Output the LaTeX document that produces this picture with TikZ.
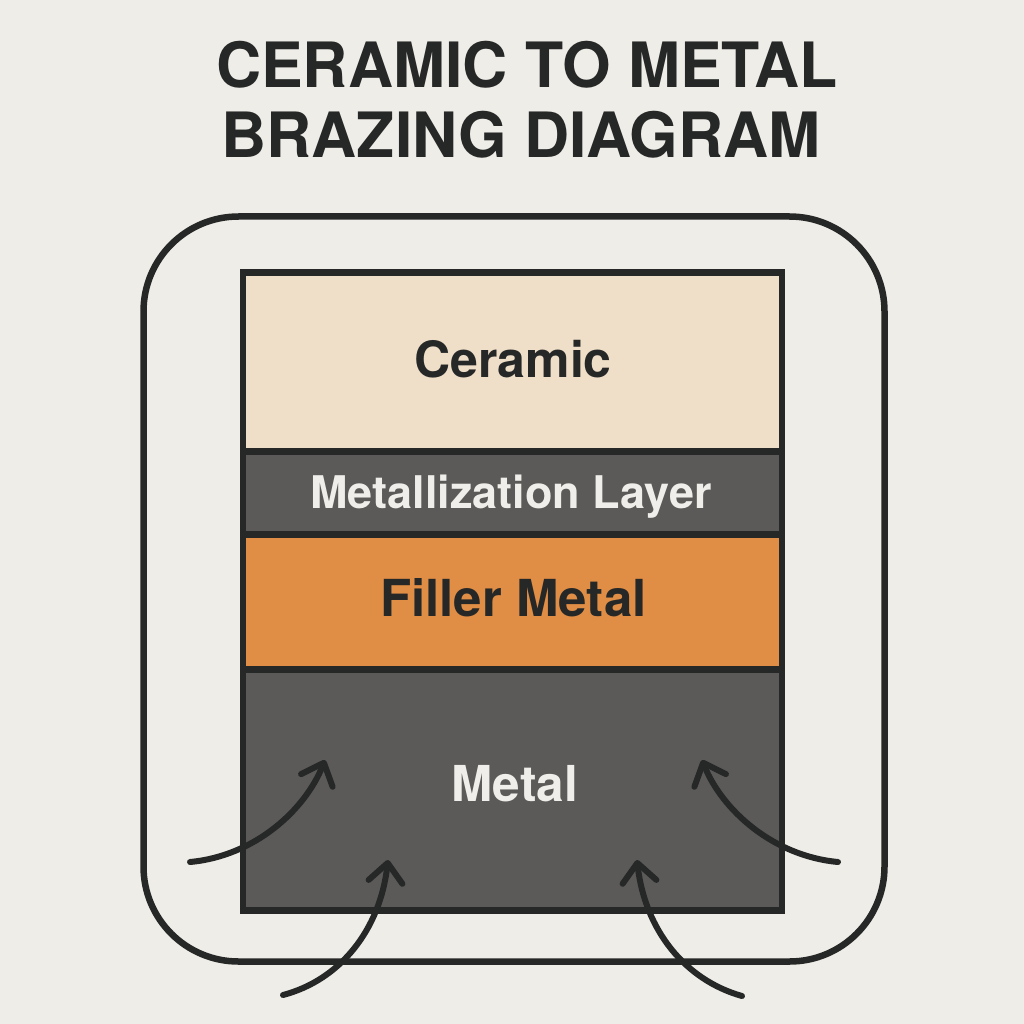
\documentclass[tikz,border=0pt]{standalone}
\usepackage{fontspec}
\setmainfont{TeX Gyre Heros}
\usetikzlibrary{arrows.meta}
\definecolor{bg}{HTML}{EFEDE8}
\definecolor{ink}{HTML}{262828}
\definecolor{ceramicc}{HTML}{F0DFC8}
\definecolor{metalc}{HTML}{5B5A58}
\definecolor{fillerc}{HTML}{E08D45}
\definecolor{lighttext}{HTML}{F0EEEA}
\tikzset{
  layer/.style={draw=ink, line width=6.5pt, minimum width=539pt, inner sep=0pt, anchor=north},
  lbl/.style={anchor=base, inner sep=0pt},
  ttl/.style={inner sep=0pt, anchor=base, text=ink, font=\bfseries\fontsize{62.5}{70}\selectfont},
  flow/.style={draw=ink, line width=6pt, line cap=round, -{Straight Barb[length=19pt,width=34pt,round]}},
}
\begin{document}
\begin{tikzpicture}[x=1pt,y=-1pt]
\useasboundingbox (0,0) rectangle (1024,1024);
\fill[bg] (0,0) rectangle (1024,1024);
\node[ttl] (t1) at (527,88) {CERAMIC TO METAL};
\node[ttl] (t2) at (521,158) {BRAZING DIAGRAM};
\node[draw=ink, line width=6.5pt, rounded corners=95pt, minimum width=741pt, minimum height=745pt, inner sep=0pt] (frame) at (514,589) {};
\node[layer, fill=ceramicc, minimum height=179pt] (ceramic) at (512.5,269) {};
\node[layer, fill=metalc, minimum height=83pt] (metallization) at (512.5,448) {};
\node[layer, fill=fillerc, minimum height=135pt] (filler) at (512.5,531) {};
\node[layer, fill=metalc, minimum height=241pt] (metal) at (512.5,666) {};
\node[lbl, text=ink, font=\bfseries\fontsize{50}{56}\selectfont] (lceramic) at (513,377) {Ceramic};
\node[lbl, text=lighttext, font=\bfseries\fontsize{45}{50}\selectfont] (lmetallization) at (511,508) {Metallization Layer};
\node[lbl, text=ink, font=\bfseries\fontsize{51}{56}\selectfont] (lfiller) at (513.5,616) {Filler Metal};
\node[lbl, text=lighttext, font=\bfseries\fontsize{49.5}{56}\selectfont] (lmetal) at (515,801) {Metal};
\coordinate (a1s) at (190,862); \coordinate (a1e) at (325,760);
\coordinate (a2s) at (283,995); \coordinate (a2e) at (388,860);
\coordinate (a3s) at (838,862); \coordinate (a3e) at (702,760);
\coordinate (a4s) at (742,996); \coordinate (a4e) at (637,860);
\draw[flow] (a1s) .. controls (255,856) and (305,810) .. (a1e);
\draw[flow] (a2s) .. controls (340,980) and (380,930) .. (a2e);
\draw[flow] (a3s) .. controls (773,856) and (722,810) .. (a3e);
\draw[flow] (a4s) .. controls (685,980) and (645,930) .. (a4e);
\end{tikzpicture}
\end{document}
